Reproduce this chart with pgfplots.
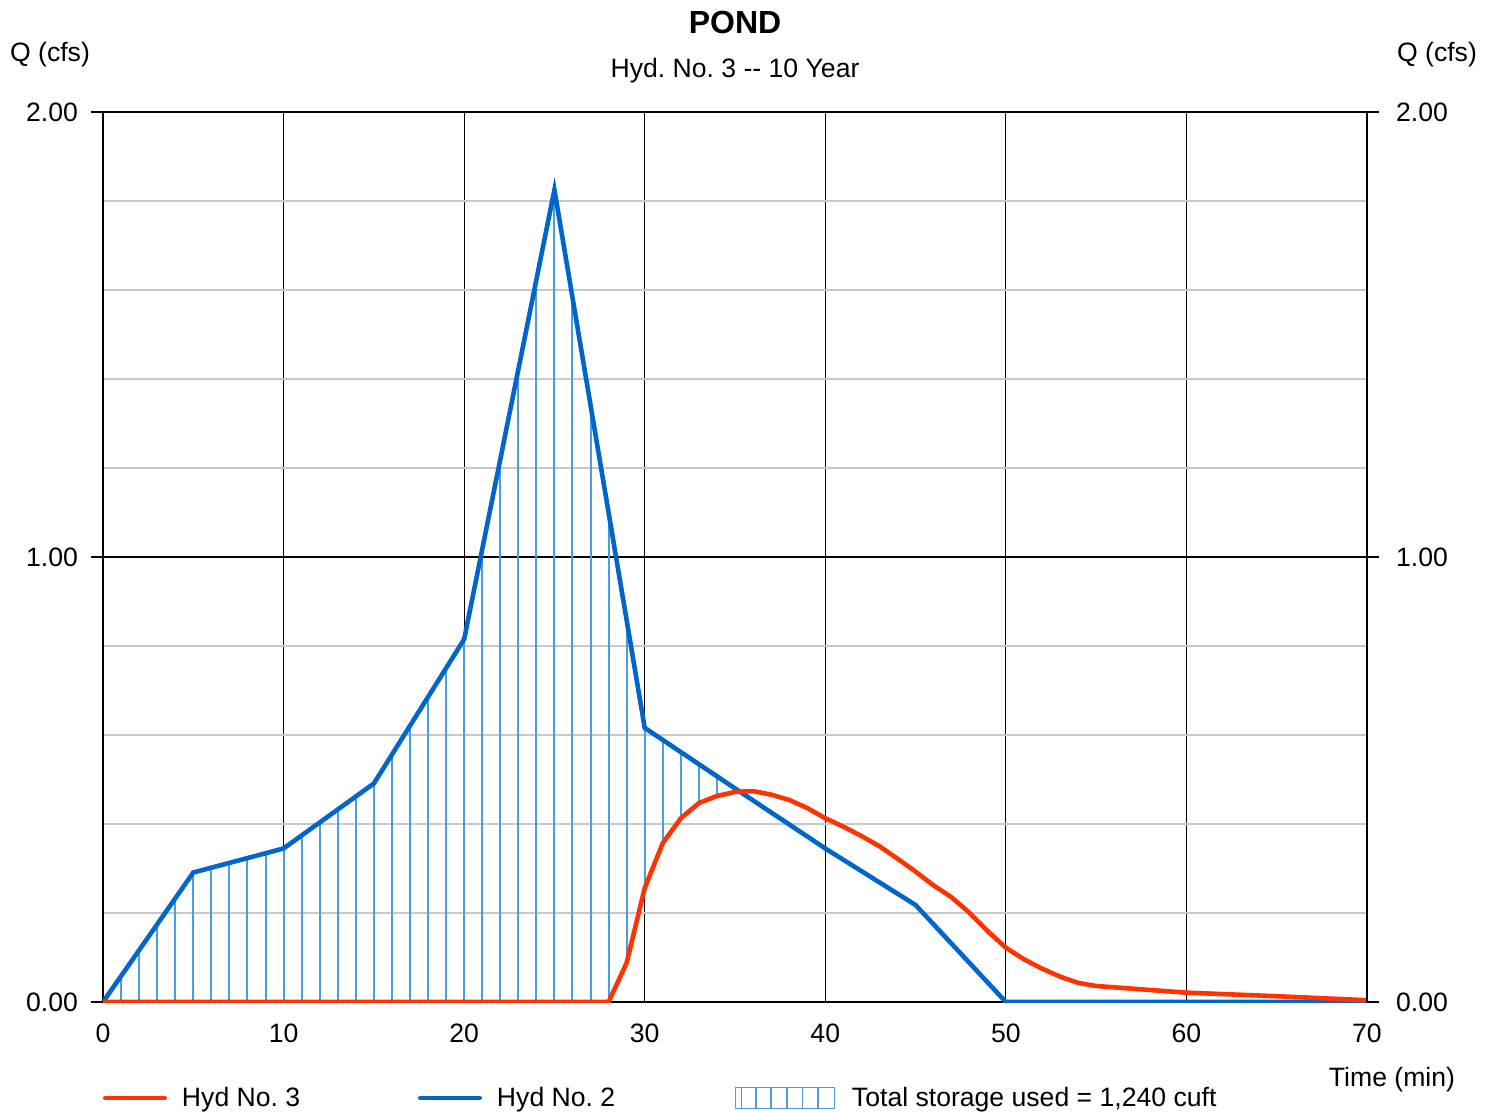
\documentclass[border=0pt]{standalone}
\usepackage{pgfplots}
\pgfplotsset{compat=1.18}
\usepackage{pgfplotstable}
\usepackage{fontspec}
\setmainfont{Liberation Sans}
\frenchspacing
\definecolor{hydred}{RGB}{255,51,0}
\definecolor{hydblue}{RGB}{0,102,204}
\definecolor{hatch}{RGB}{74,157,224}
\definecolor{minorgrey}{RGB}{200,200,200}

\pgfplotstableread{
t q
0 0
5 0.291
10 0.345
15 0.491
20 0.815
25 1.825
30 0.616
35 0.480
40 0.345
45 0.218
50 0
70 0
}\hydtwo

\pgfplotstableread{
t q
0 0
28 0
29 0.088
30 0.256
31 0.357
32 0.413
33 0.447
34 0.463
35 0.472
36 0.474
37 0.466
38 0.454
39 0.436
40 0.413
41 0.394
42 0.373
43 0.350
44 0.322
45 0.293
46 0.262
47 0.235
48 0.200
49 0.159
50 0.122
51 0.096
52 0.075
53 0.057
54 0.043
55 0.036
60 0.021
65 0.013
70 0.004
}\hydthree

\pgfplotstableread{
t top drop
1 0.058 0.058
2 0.116 0.116
3 0.175 0.175
4 0.233 0.233
5 0.291 0.291
6 0.302 0.302
7 0.313 0.313
8 0.323 0.323
9 0.334 0.334
10 0.345 0.345
11 0.374 0.374
12 0.403 0.403
13 0.433 0.433
14 0.462 0.462
15 0.491 0.491
16 0.556 0.556
17 0.621 0.621
18 0.685 0.685
19 0.750 0.750
20 0.815 0.815
21 1.017 1.017
22 1.219 1.219
23 1.421 1.421
24 1.623 1.623
25 1.825 1.825
26 1.583 1.583
27 1.341 1.341
28 1.099 1.099
29 0.858 0.770
30 0.616 0.360
31 0.589 0.232
32 0.562 0.149
33 0.534 0.087
34 0.507 0.044
}\storage

\begin{document}
\begin{tikzpicture}[font=\fontsize{13.3}{16}\selectfont]
\useasboundingbox (-51.5pt,-56pt) rectangle (695.5pt,501pt);
\begin{axis}[
  at={(0pt,0pt)}, anchor=south west,
  scale only axis, width=632pt, height=445pt,
  xmin=0, xmax=70, ymin=0, ymax=2,
  axis line style={black, line width=0.7pt},
  xtick={0,10,...,70},
  ytick={0,1,2},
  yticklabels={0.00,1.00,2.00},
  minor ytick={0.2,0.4,0.6,0.8,1.2,1.4,1.6,1.8},
  xtick pos=bottom, ytick pos=left,
  tick align=outside,
  major tick length=6pt, minor tick length=0pt,
  xtick style={draw=none},
  ytick style={black, line width=0.7pt},
  grid=both,
  major grid style={black, line width=0.6pt},
  minor grid style={minorgrey, line width=1.3pt},
  tick label style={font=\fontsize{13.3}{16}\selectfont},
  /pgf/number format/assume math mode=true,
  xticklabel style={yshift=-1.5pt},
  yticklabel style={xshift=-3pt},
  legend columns=3,
  legend style={at={(axis description cs:0,-0.1079)}, anchor=west,
    draw=none, fill=none, inner sep=0pt, outer sep=0pt,
    nodes={inner sep=0pt, outer sep=0pt, anchor=west},
    /tikz/every odd column/.append style={column sep=7.5pt},
    font=\fontsize{13.3}{16}\selectfont},
]
\addplot[draw=none, mark=none, forget plot,
  error bars/.cd, y dir=minus, y explicit, error mark=none,
  error bar style={draw=hatch, solid, line width=1pt}]
  table[x=t, y=top, y error minus=drop] {\storage};
\addplot[hydblue, line width=2.3pt, mark=none, forget plot] table[x=t, y=q] {\hydtwo};
\addplot[hydred, line width=2.3pt, mark=none, forget plot] table[x=t, y=q] {\hydthree};
\addlegendimage{hydred, line width=2.3pt, line cap=round, legend image code/.code={\draw (0pt,0pt) -- (29.7pt,0pt);}}
\addlegendentry{\makebox[118pt][l]{Hyd No. 3}}
\addlegendimage{hydblue, line width=2.3pt, line cap=round, legend image code/.code={\draw (0pt,0pt) -- (29.7pt,0pt);}}
\addlegendentry{\makebox[119pt][l]{Hyd No. 2}}
\addlegendimage{legend image code/.code={
  \draw[hatch, line width=0.7pt] (0pt,-5.25pt) rectangle (49.3pt,5.25pt);
  \foreach \x in {2.9,10.2,17.7,25.6,33.4,41.1} {\draw[hatch, line width=0.7pt] (\x pt,-5.25pt) -- (\x pt,5.25pt);}
}}
\addlegendentry{\hspace{1pt}Total storage used = 1,240 cuft}
\end{axis}
\begin{axis}[
  at={(0pt,0pt)}, anchor=south west,
  scale only axis, width=632pt, height=445pt,
  xmin=0, xmax=70, ymin=0, ymax=2,
  hide x axis,
  axis y line*=right,
  axis line style={black, line width=0.7pt},
  ytick={0,1,2},
  yticklabels={0.00,1.00,2.00},
  tick align=outside,
  major tick length=6pt,
  ytick style={black, line width=0.7pt},
  tick label style={font=\fontsize{13.3}{16}\selectfont},
  yticklabel style={xshift=5pt},
]
\end{axis}
\node[font=\fontsize{16}{19}\selectfont\bfseries] at (316pt,490pt) {POND};
\node at (316pt,465.5pt) {Hyd. No. 3 {-}{-} 10 Year};
\node at (-26.5pt,473.5pt) {Q (cfs)};
\node at (667pt,473.5pt) {Q (cfs)};
\node at (644.5pt,-39pt) {Time (min)};
\end{tikzpicture}
\end{document}
